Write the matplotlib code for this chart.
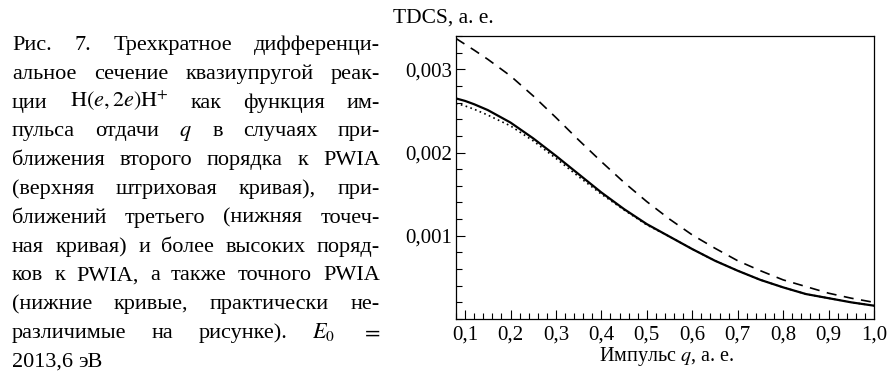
import numpy as np
import matplotlib
matplotlib.use("Agg")
import matplotlib.pyplot as plt
from matplotlib.ticker import MultipleLocator, FuncFormatter

plt.rcParams["font.family"] = ["Liberation Serif", "DejaVu Serif"]
plt.rcParams["mathtext.fontset"] = "stix"

# ------------ Data ------------------------------------
q = [0.08, 0.1, 0.12, 0.15, 0.2, 0.25, 0.3, 0.35, 0.4, 0.45, 0.5, 0.55,
     0.6, 0.65, 0.7, 0.75, 0.8, 0.85, 0.9, 0.95, 1.0]

# second order PWIA (dashed)
tdcs_2nd = [0.00337, 0.00330, 0.00323, 0.00312, 0.00292, 0.00268, 0.00242, 0.00215, 0.00189, 0.00164,
            0.00141, 0.00120, 0.00101, 0.00085, 0.00070, 0.00058, 0.00047, 0.00039, 0.00031, 0.00025,
            0.00020]
# third order (dotted)
tdcs_3rd = [0.00259, 0.00256, 0.00252, 0.00245, 0.00232, 0.00214, 0.00193, 0.00171, 0.00150, 0.00131,
            0.00113, 0.00099, 0.00084, 0.00070, 0.00058, 0.00047, 0.00038, 0.00030, 0.00025, 0.00020,
            0.00016]
# higher orders / exact PWIA (solid)
tdcs_exact = [0.00265, 0.00262, 0.00258, 0.00251, 0.00236, 0.00217, 0.00196, 0.00174, 0.00152, 0.00132,
              0.00114, 0.00099, 0.00084, 0.00070, 0.00058, 0.00047, 0.00038, 0.00030, 0.00025, 0.00020,
              0.00016]

x_ticks = [0.1, 0.2, 0.3, 0.4, 0.5, 0.6, 0.7, 0.8, 0.9, 1.0]
y_ticks = [0.001, 0.002, 0.003]

caption_lines = [
    "Рис. 7. Трехкратное дифференци-",
    "альное сечение квазиупругой реак-",
    r"ции $\mathrm{H}(e,2e)\mathrm{H}^{+}$ как функция им-",
    r"пульса отдачи $q$ в случаях при-",
    "ближения второго порядка к PWIA",
    "(верхняя штриховая кривая), при-",
    "ближений третьего (нижняя точеч-",
    "ная кривая) и более высоких поряд-",
    "ков к PWIA, а также точного PWIA",
    "(нижние кривые, практически не-",
    r"различимые на рисунке). $E_0$ $=$",
    "2013,6 эВ",
]

W, H = 891, 372
fig = plt.figure(figsize=(W / 100, H / 100), dpi=100)
ax = fig.add_axes([456 / W, 1 - 319 / H, (874 - 456) / W, (319 - 36) / H])

ax.plot(q, tdcs_2nd, color="black", lw=1.2, dashes=(6, 4.5))
ax.plot(q, tdcs_3rd, color="black", lw=1.2, linestyle=(0, (1, 2)))
ax.plot(q, tdcs_exact, color="black", lw=1.6)

ax.set_xlim(0.08, 1.0)
ax.set_ylim(0, 0.0034)
ax.set_xticks(x_ticks)
ax.set_yticks(y_ticks)
ax.xaxis.set_minor_locator(MultipleLocator(0.02))
ax.yaxis.set_minor_locator(MultipleLocator(0.0002))
ax.xaxis.set_major_formatter(FuncFormatter(lambda v, p: f"{v:.1f}".replace(".", ",")))
ax.yaxis.set_major_formatter(FuncFormatter(lambda v, p: f"{v:.3f}".replace(".", ",")))
ax.tick_params(which="both", direction="in", top=False, right=False, labelsize=15, width=0.8)
ax.tick_params(which="major", length=6.5)
ax.tick_params(which="minor", length=4)
ax.tick_params(axis="x", pad=5)
ax.tick_params(axis="y", pad=3)
for s in ax.spines.values():
    s.set_linewidth(0.9)

fig.text(393 / W, 1 - 18 / H, "TDCS, а. е.", fontsize=15.5, ha="left", va="center")
fig.text(667 / W, 1 - 357 / H, r"Импульс $q$, а. е.", fontsize=14.5, ha="center", va="center")

# ------------ Caption, justified -------------
renderer = fig.canvas.get_renderer()
x_left, x_right = 12, 380
base0, step = 50, 28.8
for i, line in enumerate(caption_lines):
    y = 1 - (base0 + i * step) / H
    words = line.split(" ")
    texts = [fig.text(0, y, w, fontsize=16, ha="left", va="baseline") for w in words]
    widths = [t.get_window_extent(renderer).width for t in texts]
    if i == len(caption_lines) - 1 or len(words) == 1:
        gap = 5.5
    else:
        gap = (x_right - x_left - sum(widths)) / (len(words) - 1)
    x = x_left
    for t, w in zip(texts, widths):
        t.set_x(x / W)
        x += w + gap

fig.savefig("out.png", dpi=100)
